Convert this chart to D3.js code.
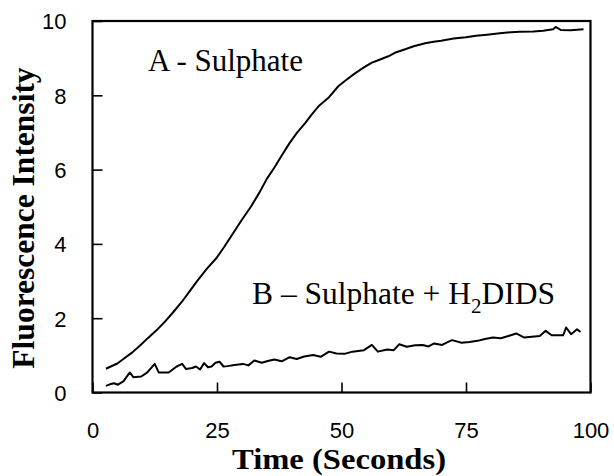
<!DOCTYPE html>
<html>
<head>
<meta charset="utf-8">
<script src="https://cdn.jsdelivr.net/npm/d3@7"></script>
<style>
  html, body { margin: 0; padding: 0; background: #fff; }
  svg { display: block; }
  .serif { font-family: "Liberation Serif", "Times New Roman", serif; }
</style>
</head>
<body>
<svg id="chart" width="614" height="476"></svg>
<script>
// ---- data ----
const xTicks = [0, 25, 50, 75, 100];
const yTicks = [0, 2, 4, 6, 8, 10];

const timeA = [2.7, 4, 5, 6.2, 8, 9.5, 11, 12.9, 14.5, 16.2, 18, 19.6, 21, 22.9, 24.9, 26.5, 28.3, 30, 31.8, 33.6,
  35, 36.5, 38, 39.5, 41, 42.7, 44, 45.5, 46.2, 47.5, 49.4, 51, 52.7, 54.5, 56.1, 57.5, 59.4, 61, 62.8, 64.5,
  66.8, 68.5, 70, 72.5, 75, 77, 79.2, 81.8, 84, 85.8, 88.5, 90.5, 92.5, 93, 94, 96, 98.6];
const intensityA = [0.64, 0.72, 0.78, 0.90, 1.08, 1.26, 1.45, 1.68, 1.90, 2.16, 2.45, 2.74, 3.00, 3.32, 3.62, 3.93, 4.30, 4.65, 5.00, 5.40,
  5.75, 6.05, 6.38, 6.70, 6.98, 7.25, 7.48, 7.72, 7.80, 7.95, 8.25, 8.42, 8.59, 8.75, 8.88, 8.95, 9.05, 9.16, 9.24, 9.32,
  9.40, 9.44, 9.47, 9.53, 9.56, 9.60, 9.63, 9.67, 9.70, 9.71, 9.72, 9.74, 9.78, 9.84, 9.76, 9.75, 9.78];

const timeB = [2.7, 3.5, 4.3, 5.1, 6.2, 7.5, 8.2, 9.8, 11.0, 12.5, 13.3, 15.3, 16.1, 16.9, 18.0, 18.8, 20.0, 20.8, 21.6, 22.4,
  23.2, 23.9, 24.7, 25.5, 26.3, 27.1, 28.5, 30.2, 31.3, 32.5, 34.0, 35.2, 36.5, 38.0, 39.6, 41.0, 42.5, 44.3, 45.8, 47.5,
  49.0, 50.6, 52.2, 54.5, 56.1, 57.3, 59.2, 60.5, 61.6, 63.1, 64.8, 66.3, 67.5, 68.6, 70.2, 71.2, 72.2, 74.1, 75.7, 77.3,
  78.8, 80.4, 82.0, 83.5, 85.1, 86.7, 88.2, 89.8, 91.0, 92.2, 94.5, 95.1, 96.1, 97.3, 98.0];
const intensityB = [0.18, 0.22, 0.25, 0.21, 0.30, 0.54, 0.41, 0.43, 0.54, 0.77, 0.54, 0.54, 0.62, 0.70, 0.77, 0.63, 0.66, 0.70, 0.62, 0.79,
  0.68, 0.70, 0.80, 0.83, 0.70, 0.71, 0.74, 0.77, 0.73, 0.86, 0.80, 0.85, 0.89, 0.84, 0.95, 0.90, 0.97, 1.01, 0.96, 1.10,
  1.05, 1.04, 1.10, 1.14, 1.28, 1.10, 1.16, 1.14, 1.30, 1.23, 1.27, 1.28, 1.24, 1.32, 1.28, 1.35, 1.41, 1.34, 1.36, 1.39,
  1.44, 1.48, 1.46, 1.52, 1.59, 1.48, 1.50, 1.52, 1.66, 1.54, 1.54, 1.75, 1.57, 1.70, 1.63];

const labelA = "A - Sulphate";
const xTitle = "Time (Seconds)";
const yTitle = "Fluorescence Intensity";

// ---- layout ----
const svg = d3.select("#chart");
const mLeft = 92.5, mRight = 590.5, mTop = 21, mBottom = 392.5;

const x = d3.scaleLinear().domain([0, 100]).range([mLeft, mRight]);
const y = d3.scaleLinear().domain([0, 10]).range([mBottom, mTop]);

const tickFont = "'Liberation Sans', Arial, Helvetica, sans-serif";

// x axis (ticks pointing inward)
const gx = svg.append("g")
  .attr("transform", `translate(0,${mBottom})`)
  .call(d3.axisBottom(x).tickValues(xTicks).tickSizeInner(-10).tickSizeOuter(0).tickFormat(d3.format("d")));
gx.select(".domain").remove();
gx.selectAll(".tick line").attr("stroke", "#000").attr("stroke-width", 1.6);
gx.selectAll(".tick text")
  .attr("y", 45.5).attr("dy", 0)
  .attr("fill", "#000")
  .style("font-family", tickFont).style("font-size", "22px");

// y axis
const gy = svg.append("g")
  .attr("transform", `translate(${mLeft},0)`)
  .call(d3.axisLeft(y).tickValues(yTicks).tickSizeInner(-10).tickSizeOuter(0).tickFormat(d3.format("d")));
gy.select(".domain").remove();
gy.selectAll(".tick line").attr("stroke", "#000").attr("stroke-width", 1.6);
gy.selectAll(".tick text")
  .attr("x", -26).attr("dy", "0.36em")
  .attr("fill", "#000")
  .style("font-family", tickFont).style("font-size", "22px");

// frame
svg.append("rect")
  .attr("x", mLeft).attr("y", mTop)
  .attr("width", mRight - mLeft).attr("height", mBottom - mTop)
  .attr("fill", "none").attr("stroke", "#000").attr("stroke-width", 2.2);

// curves
const line = d3.line().x(d => x(d[0])).y(d => y(d[1]));
const dataA = timeA.map((t, i) => [t, intensityA[i]]);
const dataB = timeB.map((t, i) => [t, intensityB[i]]);

svg.append("path").datum(dataA).attr("d", line)
  .attr("fill", "none").attr("stroke", "#000").attr("stroke-width", 2).attr("stroke-linejoin", "round");
svg.append("path").datum(dataB).attr("d", line)
  .attr("fill", "none").attr("stroke", "#000").attr("stroke-width", 2).attr("stroke-linejoin", "round");

// annotations
svg.append("text")
  .attr("class", "serif")
  .attr("x", 148).attr("y", 71)
  .attr("font-size", 31)
  .text(labelA);

const tB = svg.append("text")
  .attr("class", "serif")
  .attr("x", 252).attr("y", 304)
  .attr("font-size", 31.5);
tB.append("tspan").text("B \u2013 Sulphate + H");
tB.append("tspan").attr("dy", 9).attr("font-size", 21).text("2");
tB.append("tspan").attr("dy", -9).text("DIDS");

// axis titles
svg.append("text")
  .attr("class", "serif")
  .attr("x", 339).attr("y", 468.5)
  .attr("text-anchor", "middle")
  .attr("font-weight", "bold").attr("font-size", 30)
  .attr("textLength", 214).attr("lengthAdjust", "spacingAndGlyphs")
  .text(xTitle);

svg.append("text")
  .attr("class", "serif")
  .attr("transform", "translate(34,218) rotate(-90)")
  .attr("text-anchor", "middle")
  .attr("font-weight", "bold").attr("font-size", 31.5)
  .text(yTitle);
</script>
</body>
</html>
